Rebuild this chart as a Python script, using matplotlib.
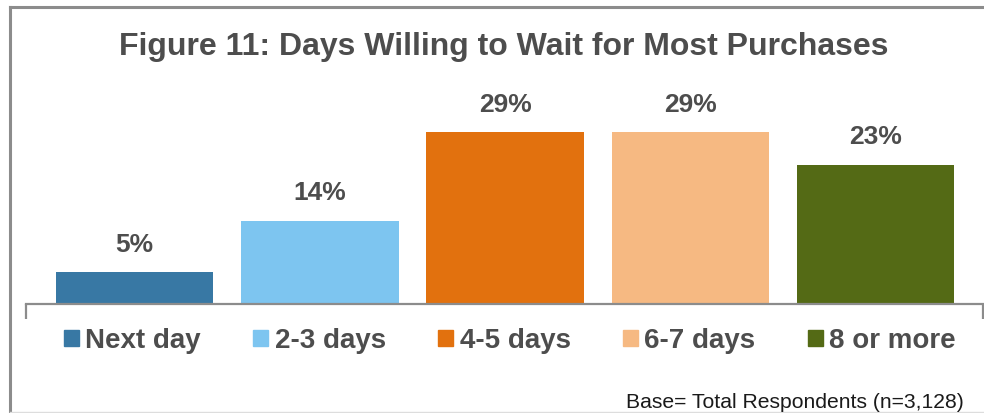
import matplotlib.pyplot as plt
from matplotlib.patches import Rectangle
from matplotlib.lines import Line2D

# Data
categories = ['Next day', '2-3 days', '4-5 days', '6-7 days', '8 or more']
shares = [5.4, 14.0, 28.9, 28.9, 23.4]
labels = ['5%', '14%', '29%', '29%', '23%']
colors = ['#3878A4', '#7DC5F0', '#E2710E', '#F6B982', '#546A15']

W, H = 984, 413
fig = plt.figure(figsize=(W / 100, H / 100), dpi=100)
plt.rcParams['font.family'] = ['Liberation Sans', 'DejaVu Sans']

# outer chart frame
frame = fig.add_axes([0, 0, 1, 1], facecolor='none')
frame.set_xlim(0, W)
frame.set_ylim(H, 0)
frame.axis('off')
frame.add_line(Line2D([9.5, 9.5], [6.5, H], color='#8c8c8c', lw=2.2))
frame.add_line(Line2D([9.5, W], [6.5, 6.5], color='#8c8c8c', lw=2.2))
frame.add_line(Line2D([9.5, W], [412, 412], color='#dddddd', lw=1))

# plot area: x axis line at y=304 px
ax_left, ax_right = 26, 983
ax_bottom, ax_top = 304, 90
ax = fig.add_axes([ax_left / W, 1 - ax_bottom / H,
                   (ax_right - ax_left) / W, (ax_bottom - ax_top) / H])
x = list(range(len(categories)))
bars = ax.bar(x, shares, width=0.85, color=colors)
ax.set_xlim(-0.586, 4.58)
ax.set_ylim(0, (ax_bottom - ax_top) / 5.95)

for b, lab in zip(bars, labels):
    ax.annotate(lab, (b.get_x() + b.get_width() / 2, b.get_height()),
                xytext=(0, 11), textcoords='offset points', ha='center', va='bottom',
                fontsize=19, fontweight='bold', color='#4d4d4d', annotation_clip=False)

for s in ['top', 'right', 'left']:
    ax.spines[s].set_visible(False)
ax.spines['bottom'].set_color('#8c8c8c')
ax.spines['bottom'].set_linewidth(1.6)
ax.set_yticks([])
ax.set_xticks([-0.586, 4.58])
ax.set_xticklabels([])
ax.tick_params(axis='x', direction='out', length=11, width=1.6, color='#8c8c8c')

# title
fig.text(504 / W, 1 - 47 / H, 'Figure 11: Days Willing to Wait for Most Purchases',
         ha='center', va='center', fontsize=23, fontweight='bold', color='#4d4d4d')

# legend
handles = [Rectangle((0, 0), 1, 1, color=c) for c in colors]
leg = fig.legend(handles, categories, loc='center', bbox_to_anchor=(510 / W, 1 - 341 / H),
                 ncol=5, frameon=False, prop={'size': 20, 'weight': 'bold'},
                 handlelength=0.54, handleheight=0.54, handletextpad=0.22,
                 columnspacing=1.9, borderpad=0, borderaxespad=0)
for t in leg.get_texts():
    t.set_color('#4d4d4d')

# footnote
fig.text(964 / W, 1 - 402 / H, 'Base= Total Respondents (n=3,128)', ha='right', va='center',
         fontsize=15.2, color='#1a1a1a')

fig.savefig('out.png', dpi=100)
